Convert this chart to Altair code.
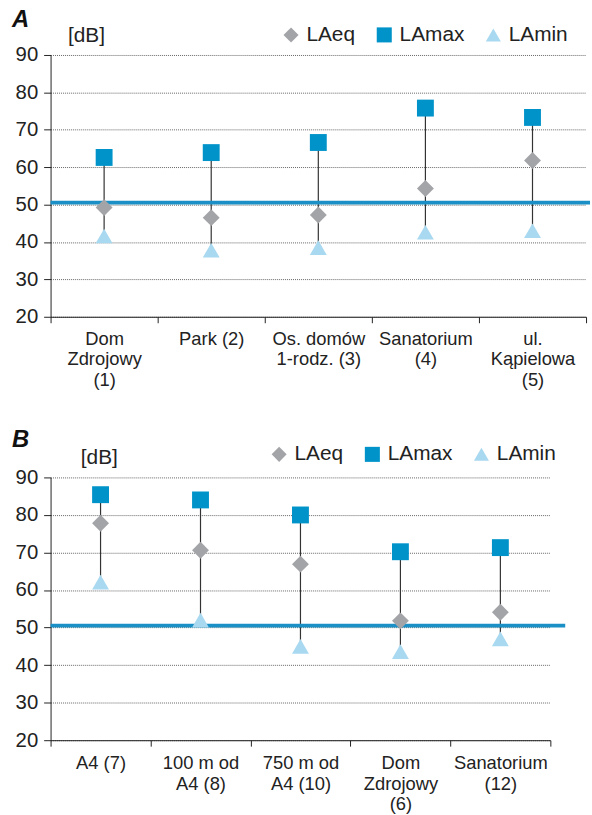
import altair as alt
import pandas as pd

# ---- data ----
cats_a = ["Dom\nZdrojowy\n(1)", "Park (2)", "Os. domów\n1-rodz. (3)", "Sanatorium\n(4)", "ul.\nKąpielowa\n(5)"]
laeq_a = [49.2, 46.5, 47.2, 54.3, 61.8]
lamax_a = [62.6, 63.9, 66.6, 75.8, 73.3]
lamin_a = [41.6, 37.8, 38.5, 42.6, 43.0]

cats_b = ["A4 (7)", "100 m od\nA4 (8)", "750 m od\nA4 (10)", "Dom\nZdrojowy\n(6)", "Sanatorium\n(12)"]
laeq_b = [77.8, 70.6, 66.9, 51.8, 54.1]
lamax_b = [85.4, 84.0, 80.0, 70.2, 71.3]
lamin_b = [62.1, 52.0, 45.0, 43.6, 47.0]

series = ["LAeq", "LAmax", "LAmin"]
shapes = ["diamond", "square", "triangle-up"]
colors = ["#a3a4a8", "#0093c9", "#a9d9f0"]
limit_value = 50.5
y_ticks = [20, 30, 40, 50, 60, 70, 80, 90]

FONT = "Liberation Sans"


def panel(cats, eq, mx, mn, width, height, letter, leg_x, leg_y, dbx, line_ext, xpad):
    wide = pd.DataFrame({"cat": cats, "LAeq": eq, "LAmax": mx, "LAmin": mn})
    long = wide.melt(id_vars="cat", value_vars=series, var_name="series", value_name="value")
    lim = pd.DataFrame({"limit": [limit_value]})

    x_enc = alt.X(
        "cat:N",
        sort=cats,
        scale=alt.Scale(type="band", paddingInner=0, paddingOuter=0),
        axis=alt.Axis(
            title=None,
            labelAngle=0,
            tickBand="extent",
            labelExpr="split(datum.label, '\\n')",
            labelFontSize=18.5,
            labelLineHeight=20.5,
            labelColor="#222",
            labelPadding=xpad,
            tickSize=6,
            tickColor="#222",
            domainColor="#222",
            labelBaseline="top",
        ),
    )
    y_scale = alt.Scale(domain=[20, 90], nice=False, zero=False)
    y_axis = alt.Axis(
        values=y_ticks,
        grid=True,
        gridDash=[1, 1],
        gridColor="#666",
        gridWidth=1,
        tickSize=7,
        tickColor="#222",
        domainColor="#222",
        labelFontSize=20.5,
        labelColor="#222",
        labelPadding=6,
        labelOverlap=False,
        title="[dB]",
        titleAngle=0,
        titleAlign="left",
        titleBaseline="alphabetic",
        titleX=dbx,
        titleY=-14,
        titleFontSize=21,
        titleFontWeight="normal",
        titleColor="#222",
    )

    rules = alt.Chart(wide).mark_rule(color="#333", strokeWidth=1.2).encode(
        x=x_enc,
        y=alt.Y("LAmin:Q", scale=y_scale, axis=y_axis),
        y2="LAmax:Q",
    )
    limit_line = alt.Chart(lim).mark_rule(color="#1a90c6", strokeWidth=3.8).encode(
        y=alt.Y("limit:Q", scale=y_scale, axis=y_axis),
        x=alt.value(0),
        x2=alt.value(width + line_ext),
    )
    legend = alt.Legend(
        title=None,
        orient="none",
        direction="horizontal",
        legendX=leg_x,
        legendY=leg_y,
        labelFontSize=21,
        labelColor="#222",
        symbolSize=230,
        symbolStrokeWidth=0,
        labelOffset=5,
        columnPadding=18,
        padding=0,
    )
    points = alt.Chart(long).mark_point(filled=True, size=290, opacity=1, strokeWidth=0).encode(
        x=x_enc,
        y=alt.Y("value:Q", scale=y_scale, axis=y_axis),
        shape=alt.Shape("series:N", sort=series, scale=alt.Scale(domain=series, range=shapes), legend=legend),
        color=alt.Color("series:N", sort=series, scale=alt.Scale(domain=series, range=colors), legend=legend),
    )
    return alt.layer(rules, limit_line, points).resolve_scale(
        color="independent", shape="independent"
    ).properties(
        width=width,
        height=height,
        title=alt.TitleParams(
            letter,
            anchor="start",
            frame="group",
            fontSize=24,
            fontStyle="italic",
            fontWeight="bold",
            color="#111",
            dx=-39,
            offset=-8,
        ),
    )


chart_a = panel(cats_a, laeq_a, lamax_a, lamin_a, 540, 264, "A", 232, -31, 17, 4, 7)
chart_b = panel(cats_b, laeq_b, lamax_b, lamin_b, 504, 265, "B", 220, -34, 30, 15, 8)

chart = alt.vconcat(chart_a, chart_b, spacing=39).resolve_scale(
    color="independent", shape="independent"
).properties(
    padding={"left": 12, "top": 5, "right": 0, "bottom": 0}
).configure(
    font=FONT,
).configure_view(
    stroke=None
)

chart.save("out.html", embed_options={"renderer": "svg", "actions": False})
